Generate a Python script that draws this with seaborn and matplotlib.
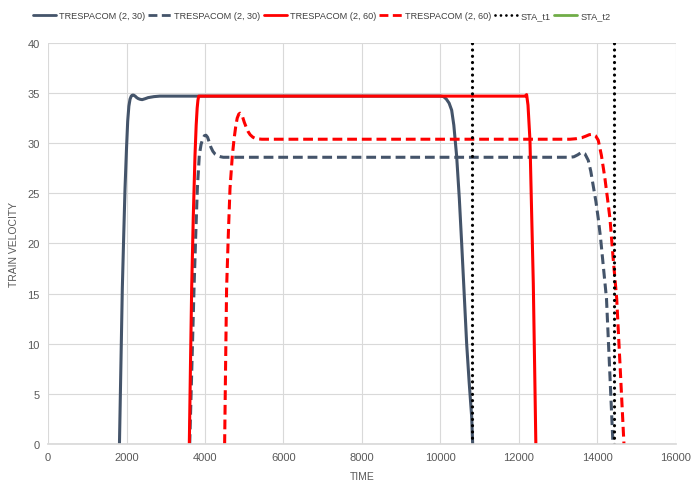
import numpy as np
import pandas as pd
import seaborn as sns
import matplotlib.pyplot as plt

# TRESPACOM (2, 30) - solid
t_30 = [1820, 1860, 1893, 1930, 1962, 2000, 2030, 2060, 2090, 2120, 2148, 2180, 2220,
        2260, 2300, 2350, 2400, 2480, 2550, 2700, 2850,
        10000, 10080, 10150, 10220, 10285, 10340, 10412, 10480, 10540, 10600, 10667,
        10730, 10795, 10820]
v_30 = [0, 8.5, 15.5, 21, 25.5, 29.5, 32.2, 33.7, 34.4, 34.7, 34.8, 34.8, 34.7,
        34.55, 34.45, 34.38, 34.35, 34.45, 34.55, 34.65, 34.7,
        34.7, 34.65, 34.4, 34.0, 33.3, 31.8, 28.7, 24.5, 20, 15.3, 10,
        6.2, 2.7, 0]

# TRESPACOM (2, 30) - dashed
t_30d = [3610, 3660, 3720, 3765, 3805, 3855, 3900, 3940, 3985, 4025, 4065, 4100,
         4150, 4200, 4260, 4320, 4400, 4466, 4700,
         13300, 13400, 13500, 13595, 13680, 13765, 13830, 13890, 13960, 14020, 14080,
         14130, 14180, 14230, 14310, 14395]
v_30d = [0, 7, 15.5, 21, 25.5, 28.8, 29.9, 30.4, 30.75, 30.8, 30.6, 30.2,
         29.6, 29.2, 28.9, 28.75, 28.65, 28.6, 28.6,
         28.6, 28.65, 28.85, 29.1, 28.95, 28.3, 27.2, 25.8, 24.2, 22.5, 20.5,
         18.5, 16.5, 14.5, 7.5, 0]

# TRESPACOM (2, 60) - solid
t_60 = [3600, 3630, 3660, 3700, 3745, 3775, 3800, 3820, 3840, 12150, 12195, 12230,
        12280, 12320, 12365, 12400, 12430]
v_60 = [0, 8, 15.5, 22.5, 28.8, 31.8, 33.5, 34.3, 34.7, 34.7, 34.85, 33.8,
        30.3, 23.5, 16, 7.5, 0]

# TRESPACOM (2, 60) - dashed
t_60d = [4500, 4525, 4550, 4595, 4637, 4697, 4740, 4780, 4820, 4860, 4892, 4925,
         4960, 5000, 5050, 5100, 5150, 5220, 5300, 5450, 5700,
         13300, 13450, 13600, 13700, 13790, 13875, 13950, 14020, 14100, 14190,
         14255, 14318, 14400, 14490, 14580, 14675]
v_60d = [0, 8, 15.5, 21, 25.5, 28.8, 30.4, 31.6, 32.5, 32.9, 33.0, 32.9,
         32.6, 32.1, 31.6, 31.15, 30.85, 30.6, 30.45, 30.4, 30.4,
         30.4, 30.45, 30.55, 30.7, 30.85, 30.9, 30.75, 30.3, 28.8, 26.5,
         24.5, 22.5, 18.5, 14.5, 7.5, 0]

# station times
sta_t1 = [10810, 14420]
y_range = [0, 40]

gray = "#44546A"
red = "#FF0000"

sns.set_theme(style="whitegrid")
plt.rcParams['font.family'] = ['Liberation Sans', 'DejaVu Sans']

fig = plt.figure(figsize=(6.94, 4.85), dpi=100)
ax = fig.add_axes([0.0692, 0.0825, 0.9048, 0.8268])

dash = (0, (3.2, 1.6))
sns.lineplot(x=t_30, y=v_30, ax=ax, color=gray, lw=2.2, estimator=None,
             label="TRESPACOM (2, 30)")
sns.lineplot(x=t_30d, y=v_30d, ax=ax, color=gray, lw=2.2, estimator=None,
             label="TRESPACOM (2, 30)", linestyle=dash)
sns.lineplot(x=t_60, y=v_60, ax=ax, color=red, lw=2.2, estimator=None,
             label="TRESPACOM (2, 60)")
sns.lineplot(x=t_60d, y=v_60d, ax=ax, color=red, lw=2.2, estimator=None,
             label="TRESPACOM (2, 60)", linestyle=dash)
for i, t in enumerate(sta_t1):
    sns.lineplot(x=[t, t], y=y_range, ax=ax, color="black", lw=2.3, estimator=None,
                 sort=False, linestyle=(0, (0.01, 1.95)), dash_capstyle="round",
                 label="STA_t1" if i == 0 else None)
ax.plot([], [], color="#70AD47", lw=2.6, label="STA_t2")

ax.set_xlim(0, 16000)
ax.set_ylim(0, 40)
ax.set_xticks(range(0, 16001, 2000))
ax.set_yticks(range(0, 41, 5))
ax.grid(True, color="#D9D9D9", lw=0.8)
for s in ["top", "right", "left"]:
    ax.spines[s].set_visible(False)
ax.spines["bottom"].set_color("#D9D9D9")
ax.tick_params(axis="both", labelsize=8, colors="#595959", length=0, pad=6)

ax.set_xlabel("TIME", fontsize=7.5, color="#595959", labelpad=6)
ax.set_ylabel("TRAIN VELOCITY", fontsize=7.5, color="#595959", labelpad=6)

leg = ax.legend(loc="upper left", bbox_to_anchor=(0.03, 1.0), bbox_transform=fig.transFigure,
                ncol=6, frameon=False, fontsize=6.6, handlelength=2.5, handletextpad=0.35,
                columnspacing=0.35, borderaxespad=0.9, labelcolor="#404040")
for h in leg.get_lines():
    h.set_linewidth(2.0)

fig.savefig("out.png", dpi=100)
